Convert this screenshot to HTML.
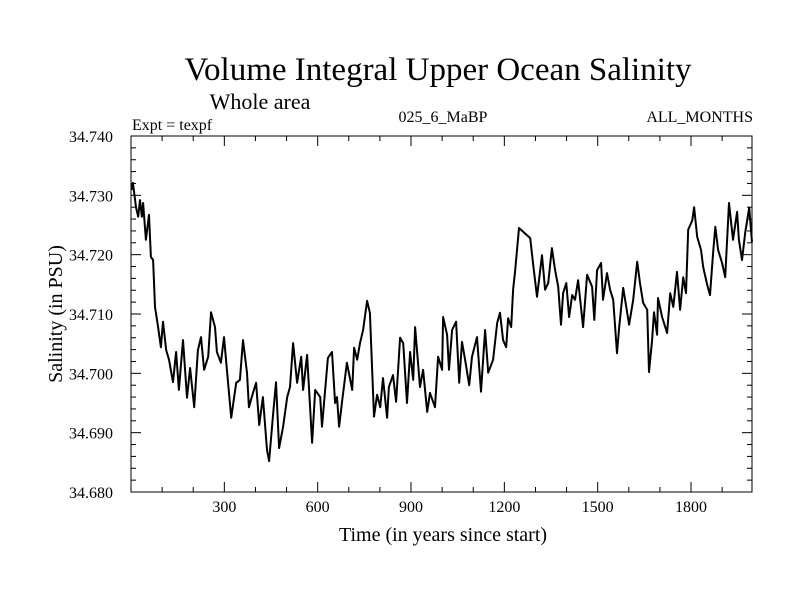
<!DOCTYPE html>
<html><head><meta charset="utf-8"><style>
body{margin:0;background:#fff}
svg text{font-family:"Liberation Serif",serif;fill:#000}
</style></head><body>
<svg id="chart" width="800" height="600" xmlns="http://www.w3.org/2000/svg">
<rect width="800" height="600" fill="#fff"/>
<text x="438" y="80" font-size="33" text-anchor="middle">Volume Integral Upper Ocean Salinity</text>
<text x="260" y="109" font-size="22" text-anchor="middle">Whole area</text>
<text x="132" y="130" font-size="16">Expt = texpf</text>
<text x="443" y="122" font-size="16" text-anchor="middle">025_6_MaBP</text>
<text x="753" y="122" font-size="16" text-anchor="end">ALL_MONTHS</text>
<text transform="translate(62,314) rotate(-90)" font-size="20" text-anchor="middle">Salinity (in PSU)</text>
<text x="443" y="541" font-size="20" text-anchor="middle">Time (in years since start)</text>
<g id="axes"></g>
<path id="series" fill="none" stroke="#000" stroke-width="2" stroke-linejoin="round"/>
<rect x="131" y="136" width="621" height="356" fill="none" stroke="#000" stroke-width="1"/>
</svg>
<script>
const years=[2,6,16,23,29,35,39,48,58,64,71,77,87,96,103,113,122,135,145,154,167,180,190,203,215,225,235,248,257,270,276,289,299,322,338,350,360,373,379,392,402,412,424,437,444,457,466,476,489,502,511,521,534,547,553,566,582,592,608,614,633,646,656,662,669,678,694,711,717,727,736,746,759,768,781,791,801,810,823,829,842,852,865,875,887,897,907,913,929,939,952,961,977,987,1000,1003,1016,1022,1032,1045,1055,1064,1074,1087,1096,1112,1125,1138,1148,1164,1177,1186,1196,1206,1212,1222,1228,1235,1247,1283,1292,1305,1321,1331,1341,1353,1363,1373,1382,1389,1399,1408,1418,1427,1437,1453,1466,1482,1489,1498,1511,1517,1530,1540,1550,1562,1569,1582,1601,1614,1627,1636,1646,1659,1665,1675,1681,1691,1694,1707,1723,1733,1743,1755,1765,1775,1784,1791,1804,1810,1820,1832,1839,1852,1861,1871,1878,1887,1900,1910,1922,1935,1948,1954,1964,1974,1987,1996];
const salinity=[34.7309,34.7321,34.7280,34.7264,34.7292,34.7264,34.7287,34.7225,34.7267,34.7196,34.7191,34.7112,34.7078,34.7044,34.7087,34.7039,34.7023,34.6985,34.7036,34.6972,34.7056,34.6959,34.7009,34.6943,34.7039,34.7061,34.7006,34.7028,34.7103,34.7078,34.7036,34.7018,34.7061,34.6925,34.6984,34.6989,34.7056,34.7001,34.6943,34.6967,34.6984,34.6913,34.6960,34.6871,34.6852,34.6933,34.6985,34.6874,34.6910,34.6960,34.6977,34.7051,34.6984,34.7028,34.6972,34.7031,34.6883,34.6972,34.6960,34.6910,34.7026,34.7036,34.6950,34.6960,34.6910,34.6950,34.7018,34.6972,34.7043,34.7023,34.7051,34.7073,34.7122,34.7102,34.6927,34.6964,34.6943,34.6992,34.6925,34.6977,34.6997,34.6952,34.7060,34.7051,34.6950,34.7036,34.6989,34.7078,34.6977,34.7006,34.6935,34.6967,34.6943,34.7028,34.7006,34.7095,34.7065,34.7006,34.7073,34.7087,34.6984,34.7053,34.7023,34.6980,34.7028,34.7061,34.6969,34.7073,34.7001,34.7023,34.7085,34.7102,34.7056,34.7044,34.7093,34.7078,34.7141,34.7174,34.7245,34.7228,34.7186,34.7129,34.7199,34.7141,34.7152,34.7211,34.7174,34.7146,34.7082,34.7135,34.7152,34.7095,34.7132,34.7124,34.7157,34.7078,34.7166,34.7146,34.7090,34.7174,34.7186,34.7124,34.7169,34.7141,34.7124,34.7034,34.7078,34.7144,34.7082,34.7124,34.7188,34.7152,34.7119,34.7107,34.7002,34.7056,34.7103,34.7065,34.7127,34.7095,34.7068,34.7135,34.7112,34.7171,34.7107,34.7162,34.7135,34.7242,34.7258,34.7280,34.7230,34.7208,34.7179,34.7149,34.7132,34.7203,34.7247,34.7208,34.7186,34.7162,34.7287,34.7225,34.7272,34.7225,34.7191,34.7237,34.7279,34.7221];
const xTicks=[300,600,900,1200,1500,1800];
const yTicks=["34.680","34.690","34.700","34.710","34.720","34.730","34.740"];
const X0=131,X1=752,Y0=492,Y1=136,XMIN=0,XMAX=1996,YMIN=34.68,YMAX=34.74;
const sx=v=>X0+(v-XMIN)/(XMAX-XMIN)*(X1-X0);
const sy=v=>Y0-(v-YMIN)/(YMAX-YMIN)*(Y0-Y1);
const NS="http://www.w3.org/2000/svg";
const g=document.getElementById('axes');
function line(x1,y1,x2,y2){const l=document.createElementNS(NS,'line');l.setAttribute('x1',x1);l.setAttribute('y1',y1);l.setAttribute('x2',x2);l.setAttribute('y2',y2);l.setAttribute('stroke','#000');l.setAttribute('stroke-width','1');g.appendChild(l);return l;}
for(let yr=100;yr<XMAX;yr+=100){const x=sx(yr);const L=(yr%300===0)?10:5;
 const a=line(x,Y0,x,Y0-L);
 const b=line(x,Y1,x,Y1+L);}
xTicks.forEach(t=>{const tx=document.createElementNS(NS,'text');tx.setAttribute('x',sx(t));tx.setAttribute('y',Y0+20);tx.setAttribute('font-size','16');tx.setAttribute('text-anchor','middle');tx.textContent=t;
 
 
 g.appendChild(tx);});
for(let i=0;i<=30;i++){const v=YMIN+i*0.002;const y=sy(v);const L=(i%5===0)?10:5;
 const a=line(X0,y,X0+L,y);
 const b=line(X1,y,X1-L,y);}
yTicks.forEach(t=>{const tx=document.createElementNS(NS,'text');tx.setAttribute('x',113);tx.setAttribute('y',sy(parseFloat(t))+6);tx.setAttribute('font-size','16');tx.setAttribute('text-anchor','end');tx.textContent=t;
 
 
 g.appendChild(tx);});
let d='';years.forEach((yr,i)=>{d+=(i?'L':'M')+sx(yr).toFixed(1)+','+sy(salinity[i]).toFixed(1);});
document.getElementById('series').setAttribute('d',d);
</script>
</body></html>
